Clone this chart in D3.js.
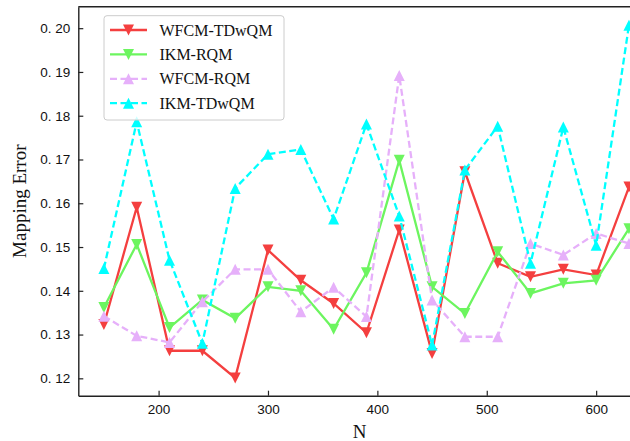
<!DOCTYPE html>
<html>
<head>
<meta charset="utf-8">
<script src="https://cdn.jsdelivr.net/npm/d3@7"></script>
<style>
  body { margin: 0; background: #fff; }
  svg { display: block; }
</style>
</head>
<body>
<svg id="chart" width="630" height="441"></svg>
<script>
// data
const nValues = [150, 180, 210, 240, 270, 300, 330, 360, 390, 420, 450, 480, 510, 540, 570, 600, 630];
const wfcmTdwqm = [0.1323, 0.1591, 0.1263, 0.1263, 0.1201, 0.1493, 0.1424, 0.1371, 0.1304, 0.1539, 0.1257, 0.1672, 0.1463, 0.1432, 0.1449, 0.1436, 0.1637];
const ikmRqm    = [0.1362, 0.1506, 0.1316, 0.1379, 0.1337, 0.1409, 0.1400, 0.1312, 0.1441, 0.1698, 0.1409, 0.1348, 0.1489, 0.1394, 0.1417, 0.1424, 0.1542];
const wfcmRqm   = [0.1342, 0.1297, 0.1282, 0.1375, 0.1449, 0.1449, 0.1352, 0.1408, 0.1341, 0.1892, 0.1379, 0.1295, 0.1295, 0.1508, 0.1482, 0.1531, 0.1508];
const ikmTdwqm  = [0.1451, 0.1786, 0.1470, 0.1280, 0.1634, 0.1712, 0.1723, 0.1564, 0.1781, 0.1571, 0.1276, 0.1676, 0.1776, 0.1463, 0.1774, 0.1504, 0.2007];
const xTicks = [200, 300, 400, 500, 600];
const yTicks = [0.12, 0.13, 0.14, 0.15, 0.16, 0.17, 0.18, 0.19, 0.20];
const yTickLabels = ["0. 12", "0. 13", "0. 14", "0. 15", "0. 16", "0. 17", "0. 18", "0. 19", "0. 20"];

const series = [
  { name: "WFCM-TDwQM", values: wfcmTdwqm, color: "#f43f3f", dash: null, marker: "down" },
  { name: "IKM-RQM", values: ikmRqm, color: "#6cf55f", dash: null, marker: "down" },
  { name: "WFCM-RQM", values: wfcmRqm, color: "#e6b0fa", dash: "7,3.5", marker: "up" },
  { name: "IKM-TDwQM", values: ikmTdwqm, color: "#00ffff", dash: "7,3.5", marker: "up" }
];

const margin = { left: 78.3, top: 6.7, right: 641, bottom: 395.7 };
const svg = d3.select("#chart");

const x = d3.scaleLinear().domain([126.6, 641]).range([margin.left, margin.right]);
const y = d3.scaleLinear().domain([0.11603, 0.20491]).range([margin.bottom, margin.top]);

const tri = (dir, s) => dir === "down"
  ? `M${-s},${-s}L${s},${-s}L0,${s}Z`
  : `M${-s},${s}L${s},${s}L0,${-s}Z`;

// lines and markers
const line = d3.line().x((d, i) => x(nValues[i])).y(d => y(d));
series.forEach(s => {
  svg.append("path")
    .datum(s.values)
    .attr("d", line)
    .attr("fill", "none")
    .attr("stroke", s.color)
    .attr("stroke-width", 2.3)
    .attr("stroke-dasharray", s.dash);
  svg.append("g")
    .selectAll("path")
    .data(s.values)
    .enter()
    .append("path")
    .attr("d", tri(s.marker, 5.5))
    .attr("transform", (d, i) => `translate(${x(nValues[i])},${y(d)})`)
    .attr("fill", s.color);
});

// axes, ticks point inward
const xAxis = svg.append("g")
  .attr("transform", `translate(0,${margin.bottom})`)
  .call(d3.axisBottom(x).tickValues(xTicks).tickSizeInner(-5).tickSizeOuter(0).tickPadding(9));
const yAxis = svg.append("g")
  .attr("transform", `translate(${margin.left},0)`)
  .call(d3.axisLeft(y).tickValues(yTicks).tickFormat((d, i) => yTickLabels[i]).tickSizeInner(-5).tickSizeOuter(0).tickPadding(8));
[xAxis, yAxis].forEach(a => {
  a.select(".domain").attr("stroke", "#222").attr("stroke-width", 1.4);
  a.selectAll(".tick line").attr("stroke", "#222").attr("stroke-width", 1.2);
  a.selectAll("text")
    .attr("fill", "#111")
    .style("font-family", "'Liberation Sans', Arial, sans-serif")
    .style("font-size", "13.5px");
});

// top border
svg.append("line")
  .attr("x1", margin.left).attr("x2", margin.right)
  .attr("y1", margin.top).attr("y2", margin.top)
  .attr("stroke", "#222").attr("stroke-width", 1.4);

// axis labels
svg.append("text")
  .attr("x", (margin.left + margin.right) / 2)
  .attr("y", 438)
  .attr("text-anchor", "middle")
  .style("font-family", "'Liberation Serif', 'Times New Roman', serif")
  .style("font-size", "19px")
  .attr("fill", "#111")
  .text("N");
svg.append("text")
  .attr("transform", `translate(26,${(margin.top + margin.bottom) / 2})rotate(-90)`)
  .attr("text-anchor", "middle")
  .style("font-family", "'Liberation Serif', 'Times New Roman', serif")
  .style("font-size", "19px")
  .attr("fill", "#111")
  .text("Mapping Error");

// legend
const legend = svg.append("g");
legend.append("rect")
  .attr("x", 104).attr("y", 15.7)
  .attr("width", 180).attr("height", 104.3)
  .attr("rx", 3)
  .attr("fill", "#fff").attr("fill-opacity", 0.8)
  .attr("stroke", "#ccc").attr("stroke-width", 1);
series.forEach((s, i) => {
  const ly = 30 + i * 24.4;
  legend.append("line")
    .attr("x1", 110).attr("x2", 147)
    .attr("y1", ly).attr("y2", ly)
    .attr("stroke", s.color).attr("stroke-width", 2.3)
    .attr("stroke-dasharray", s.dash);
  legend.append("path")
    .attr("d", tri(s.marker, 5.5))
    .attr("transform", `translate(128.5,${ly})`)
    .attr("fill", s.color);
  legend.append("text")
    .attr("x", 159.5).attr("y", ly)
    .attr("dy", "0.35em")
    .style("font-family", "'Liberation Serif', 'Times New Roman', serif")
    .style("font-size", "16px")
    .attr("fill", "#111")
    .text(s.name);
});
</script>
</body>
</html>
